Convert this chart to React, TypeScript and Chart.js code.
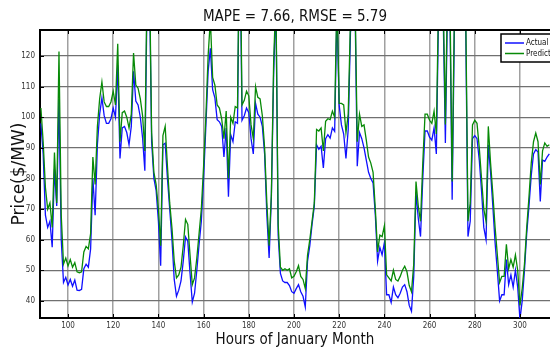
import React, { useEffect, useRef } from "react";
import { Chart, registerables } from "chart.js";

Chart.register(...registerables);

const hours = [
  88, 89, 90, 91, 92, 93, 94, 95, 96, 97,
  98, 99, 100, 101, 102, 103, 104, 105, 106, 107,
  108, 109, 110, 111, 112, 113, 114, 115, 116, 117,
  118, 119, 120, 121, 122, 123, 124, 125, 126, 127,
  128, 129, 130, 131, 132, 133, 134, 135, 136, 137,
  138, 139, 140, 141, 142, 143, 144, 145, 146, 147,
  148, 149, 150, 151, 152, 153, 154, 155, 156, 157,
  158, 159, 160, 161, 162, 163, 164, 165, 166, 167,
  168, 169, 170, 171, 172, 173, 174, 175, 176, 177,
  178, 179, 180, 181, 182, 183, 184, 185, 186, 187,
  188, 189, 190, 191, 192, 193, 194, 195, 196, 197,
  198, 199, 200, 201, 202, 203, 204, 205, 206, 207,
  208, 209, 210, 211, 212, 213, 214, 215, 216, 217,
  218, 219, 220, 221, 222, 223, 224, 225, 226, 227,
  228, 229, 230, 231, 232, 233, 234, 235, 236, 237,
  238, 239, 240, 241, 242, 243, 244, 245, 246, 247,
  248, 249, 250, 251, 252, 253, 254, 255, 256, 257,
  258, 259, 260, 261, 262, 263, 264, 265, 266, 267,
  268, 269, 270, 271, 272, 273, 274, 275, 276, 277,
  278, 279, 280, 281, 282, 283, 284, 285, 286, 287,
  288, 289, 290, 291, 292, 293, 294, 295, 296, 297,
  298, 299, 300, 301, 302, 303, 304, 305, 306, 307,
  308, 309, 310, 311, 312, 313,
];

const actual = [
  98, 88, 68, 64, 66, 57.5, 83, 71, 106, 60,
  46, 47.7, 45.2, 47, 44.8, 46.8, 43.5, 43.4, 43.8, 50.5,
  52, 51, 57, 80, 68, 91, 101, 106.3, 100.5, 98,
  98, 99.5, 103, 100, 117, 86.5, 96.5, 97, 95, 91,
  97, 115, 105.3, 104, 100, 93.2, 82.5, 140, 146, 92,
  80, 76, 66, 51.5, 91, 91.5, 80, 70, 60, 47,
  41.5, 43.5, 46.5, 53, 60.9, 59.5, 49, 39.6, 42.5, 50,
  58.4, 66, 80, 97, 115, 122.5, 109, 106.3, 99.2, 98.5,
  97, 87, 96.5, 74, 94.3, 92, 98.5, 98, 165, 99,
  100.5, 103, 101.5, 93, 88, 104.5, 101, 100, 97, 88,
  68, 54, 74, 114, 138, 61.5, 49, 46.5, 46, 46,
  45, 43, 42.5, 44, 45.3, 43, 41.5, 38, 53, 58,
  65, 71, 91, 89.5, 90.5, 83.4, 93, 94.3, 93.2, 96.5,
  95.4, 135, 104, 97.5, 94.5, 86.5, 96, 127.8, 132, 138,
  84, 95, 93, 90, 86, 82, 80, 78.5, 68, 53,
  57.5, 55, 59, 42, 42, 39.5, 44.5, 42, 41, 42.5,
  44.5, 45.3, 43, 38.5, 36.6, 48, 75.5, 67, 61, 80,
  95.5, 95.5, 93.5, 92.5, 96.5, 88, 135, 145, 135, 91.6,
  140, 135, 73, 130, 145, 155, 145, 140, 130, 61,
  66, 93, 94, 93, 86, 76, 64, 60, 91, 82,
  71, 59, 49.7, 40, 42, 42, 53.5, 45.3, 48.5, 44.5,
  50, 44.5, 34, 40, 50, 62, 71, 81, 88, 89.4,
  88.6, 72.5, 86, 85.6, 87, 88,
];

const predicted = [
  103, 92, 77, 70, 72, 64, 88.5, 72, 121.5, 68,
  52, 54, 51.4, 53.5, 51, 52.5, 49.5, 49.2, 49.5, 56,
  57.8, 57, 62, 87, 78, 97, 106, 111.5, 105, 103.5,
  103.5, 105, 108.5, 104, 124, 92, 101.5, 102, 100, 96.5,
  101, 121, 110.5, 109.5, 106, 100.5, 89, 145, 150, 95,
  82, 78, 70, 58, 94, 97, 84, 72, 63.8, 53,
  47.5, 48.5, 51, 58, 66.6, 65, 55, 45.3, 47.5, 54,
  62, 70, 84, 100, 120, 132, 113, 110.5, 104, 103,
  99.5, 93, 102, 80, 100, 98, 103.5, 103, 170, 104,
  105.5, 108.5, 107, 97.5, 93, 110, 106.5, 106, 100.5, 90,
  72, 58, 75, 118, 140, 65, 51, 50, 50.5, 50,
  50.5, 47.5, 48, 49.5, 51.5, 48, 47, 44, 55, 60,
  66, 72, 96, 95.5, 96.5, 89, 98.7, 99.5, 99.2, 102,
  100, 140, 104.5, 104.5, 104, 95, 101, 132, 135, 140,
  92, 101, 97, 97.5, 92.5, 87, 85, 82, 70, 56,
  61.5, 61, 64.5, 48.5, 47.5, 46.5, 50, 47, 46.5, 48,
  50, 51.3, 49.5, 45, 43, 52, 79, 71, 66, 85,
  101, 101, 99, 98, 102, 94.5, 140, 150, 140, 97.6,
  145, 140, 79, 135, 150, 160, 150, 145, 135, 66,
  72, 97.5, 99, 98, 90, 80, 70, 66, 97, 85,
  75, 64, 55, 46, 48, 48, 58.5, 50.5, 53.5, 51,
  55, 50, 38.5, 44, 52, 64, 74, 85, 92, 94.8,
  92, 78, 89, 91.6, 90.5, 91,
];

const xTickValues = [100, 120, 140, 160, 180, 200, 220, 240, 260, 280, 300];
const yTickValues = [40, 50, 60, 70, 80, 90, 100, 110, 120];

const titleText = "MAPE = 7.66, RMSE = 5.79";
const xTitle = "Hours of January Month";
const yTitle = "Price($/MW)";

const NARROW = "'Liberation Sans Narrow', 'DejaVu Sans Condensed', 'Liberation Sans', sans-serif";

const framePlugin = {
  id: "framePlugin",
  afterDraw(chart: any) {
    const { ctx, chartArea, scales } = chart;
    const { left, right, top, bottom } = chartArea;
    ctx.save();
    ctx.strokeStyle = "#000";
    ctx.lineWidth = 2;
    ctx.beginPath();
    ctx.moveTo(left - 1, top);
    ctx.lineTo(right + 2, top);
    ctx.stroke();
    ctx.lineWidth = 1;
    ctx.beginPath();
    scales.x.ticks.forEach((t: any) => {
      const px = Math.round(scales.x.getPixelForValue(t.value)) + 0.5;
      ctx.moveTo(px, top);
      ctx.lineTo(px, top + 4);
      ctx.moveTo(px, bottom);
      ctx.lineTo(px, bottom - 4);
    });
    scales.y.ticks.forEach((t: any) => {
      const py = Math.round(scales.y.getPixelForValue(t.value)) + 0.5;
      ctx.moveTo(left, py);
      ctx.lineTo(left + 4, py);
    });
    ctx.stroke();

    const lx = 501;
    const ly = 34;
    const lw = 70;
    const lh = 28;
    ctx.fillStyle = "#fff";
    ctx.fillRect(lx, ly, lw, lh);
    ctx.strokeStyle = "#000";
    ctx.lineWidth = 1.5;
    ctx.strokeRect(lx, ly, lw, lh);
    ctx.font = `8px ${NARROW}`;
    ctx.textBaseline = "middle";
    ctx.textAlign = "left";
    chart.data.datasets.forEach((ds: any, i: number) => {
      const yy = ly + 9 + i * 10.5;
      ctx.strokeStyle = ds.borderColor;
      ctx.lineWidth = 1.5;
      ctx.beginPath();
      ctx.moveTo(lx + 4, yy);
      ctx.lineTo(lx + 23, yy);
      ctx.stroke();
      ctx.fillStyle = "#111";
      ctx.fillText(ds.label, lx + 25, yy);
    });
    ctx.restore();
  },
};

export default function App() {
  const ref = useRef<HTMLCanvasElement | null>(null);

  useEffect(() => {
    if (!ref.current) return;
    const chart = new Chart(ref.current, {
      type: "line",
      data: {
        datasets: [
          {
            label: "Actual",
            data: hours.map((h, i) => ({ x: h, y: actual[i] })),
            borderColor: "#1010ff",
            borderWidth: 1.3,
            pointRadius: 0,
            tension: 0,
            order: 1,
          },
          {
            label: "Predicted",
            data: hours.map((h, i) => ({ x: h, y: predicted[i] })),
            borderColor: "#078a07",
            borderWidth: 1.3,
            pointRadius: 0,
            tension: 0,
            order: 0,
          },
        ],
      },
      options: {
        animation: false,
        responsive: false,
        maintainAspectRatio: false,
        events: [],
        layout: { padding: 0 },
        plugins: {
          legend: { display: false },
          tooltip: { enabled: false },
          title: {
            display: true,
            text: titleText,
            fullSize: false,
            color: "#111",
            font: { family: NARROW, size: 15, weight: "normal", lineHeight: 1.2 },
            padding: { top: 8.5, bottom: 3.5 },
          },
        },
        scales: {
          x: {
            type: "linear",
            min: 87.6,
            max: 313.3,
            afterBuildTicks: (s: any) => {
              s.ticks = xTickValues.map((v) => ({ value: v }));
            },
            afterFit: (s: any) => {
              s.height = 33;
            },
            grid: { color: "#a0a0a0", lineWidth: 1.5, drawTicks: false },
            border: { color: "#000", width: 2 },
            ticks: {
              padding: 3,
              color: "#333",
              font: { family: NARROW, size: 8 },
              maxRotation: 0,
              autoSkip: false,
            },
            title: {
              display: true,
              text: xTitle,
              color: "#111",
              font: { family: NARROW, size: 15, weight: "normal", lineHeight: 1.2 },
              padding: { top: 0, bottom: 2 },
            },
          },
          y: {
            type: "linear",
            min: 34.4,
            max: 128.5,
            afterBuildTicks: (s: any) => {
              s.ticks = yTickValues.map((v) => ({ value: v }));
            },
            afterFit: (s: any) => {
              s.width = 40;
            },
            grid: { color: "#707070", lineWidth: 1.2, drawTicks: false },
            border: { color: "#000", width: 2 },
            ticks: {
              padding: 5,
              color: "#333",
              font: { family: NARROW, size: 8 },
            },
            title: {
              display: true,
              text: yTitle,
              color: "#111",
              font: { family: "'DejaVu Sans', sans-serif", size: 17, weight: "normal" },
              padding: { top: 9, bottom: 0 },
            },
          },
        },
      },
      plugins: [framePlugin],
    } as any);
    return () => chart.destroy();
  }, []);

  return (
    <div
      style={{
        position: "fixed",
        left: 0,
        top: 0,
        width: 550,
        height: 351,
        overflow: "hidden",
        background: "#fff",
      }}
    >
      <canvas ref={ref} width={550} height={351} style={{ display: "block" }} />
    </div>
  );
}
